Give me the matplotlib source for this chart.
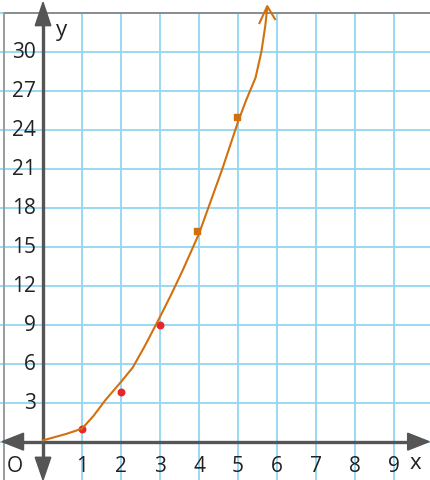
import numpy as np
import matplotlib.pyplot as plt
from matplotlib.patches import Polygon

plt.rcParams['font.family'] = ['Open Sans', 'DejaVu Sans']

# Data
x_ticks = [1, 2, 3, 4, 5, 6, 7, 8, 9]
y_ticks = [3, 6, 9, 12, 15, 18, 21, 24, 27, 30]
curve_x = [0.0, 0.3, 0.6, 1.0, 1.3, 1.6, 2.0, 2.3, 2.6, 3.0, 3.3, 3.6, 4.0, 4.3, 4.6, 5.0, 5.2, 5.45, 5.6, 5.7, 5.75]
curve_y = [0.1, 0.35, 0.6, 1.0, 2.0, 3.2, 4.6, 5.7, 7.3, 9.6, 11.4, 13.3, 16.0, 18.5, 21.0, 24.6, 26.2, 28.0, 30.0, 32.0, 33.4]
dot_x = [1, 2, 3]
dot_y = [1.0, 3.8, 9.0]
mark_x = [3.95, 4.97]
mark_y = [16.2, 25.0]

fig = plt.figure(figsize=(4.3, 4.81), dpi=100)
ax = fig.add_axes([0, 0, 1, 1])
ax.set_xlim(-1.103, 9.923)
ax.set_ylim(-2.95, 34.05)
ax.axis('off')

grid_c = '#92d6f2'
axis_c = '#555555'

# grid paper
for gx in range(-1, 11):
    ax.plot([gx, gx], [-3.5, 33], color=grid_c, lw=1.3, zorder=1)
for gy in range(-3, 34, 3):
    ax.plot([-1.2, 10], [gy, gy], color=grid_c, lw=1.3, zorder=1)
# border lines
ax.plot([-1, 10], [33, 33], color='#888888', lw=1.3, zorder=2)
ax.plot([-1, -1], [-3.5, 33], color='#999999', lw=1.3, zorder=2)

# axes with arrows
ax.plot([-0.85, 9.7], [0, 0], color=axis_c, lw=2.4, zorder=3, solid_capstyle='butt')
ax.plot([0, 0], [-2.3, 32.6], color=axis_c, lw=2.4, zorder=3, solid_capstyle='butt')
hw, hl = 0.2, 0.55
ax.add_patch(Polygon([[9.9, 0], [9.9 - hl, 0.65], [9.9 - hl, -0.65]], color=axis_c, zorder=3))
ax.add_patch(Polygon([[-1.05, 0], [-1.05 + hl, 0.65], [-1.05 + hl, -0.65]], color=axis_c, zorder=3))
ax.add_patch(Polygon([[0, 33.8], [-hw, 32.0], [hw, 32.0]], color=axis_c, zorder=3))
ax.add_patch(Polygon([[0, -2.95], [-hw, -1.2], [hw, -1.2]], color=axis_c, zorder=3))

# labels
for t in x_ticks:
    ax.text(t, -1.8, str(t), ha='center', va='center', fontsize=15, color='#222222')
for t in y_ticks:
    ax.text(-0.18, t, str(t), ha='right', va='center', fontsize=15, color='#222222')
ax.text(-0.73, -1.8, 'O', ha='center', va='center', fontsize=15, color='#222222')
ax.text(0.48, 31.7, 'y', ha='center', va='center', fontsize=16, color='#222222')
ax.text(9.55, -1.6, 'x', ha='center', va='center', fontsize=16, color='#222222')

# hand-drawn curve
orange = '#d2700f'
ax.plot(curve_x, curve_y, color=orange, lw=1.5, zorder=5)
ax.plot([5.55, 5.75, 5.95], [32.2, 33.5, 32.5], color=orange, lw=1.5, zorder=5)
ax.scatter(dot_x, dot_y, s=22, color='#e8262a', zorder=4)
ax.scatter(mark_x, mark_y, s=14, color=orange, marker='s', zorder=4)

fig.savefig('out.png', dpi=100)
